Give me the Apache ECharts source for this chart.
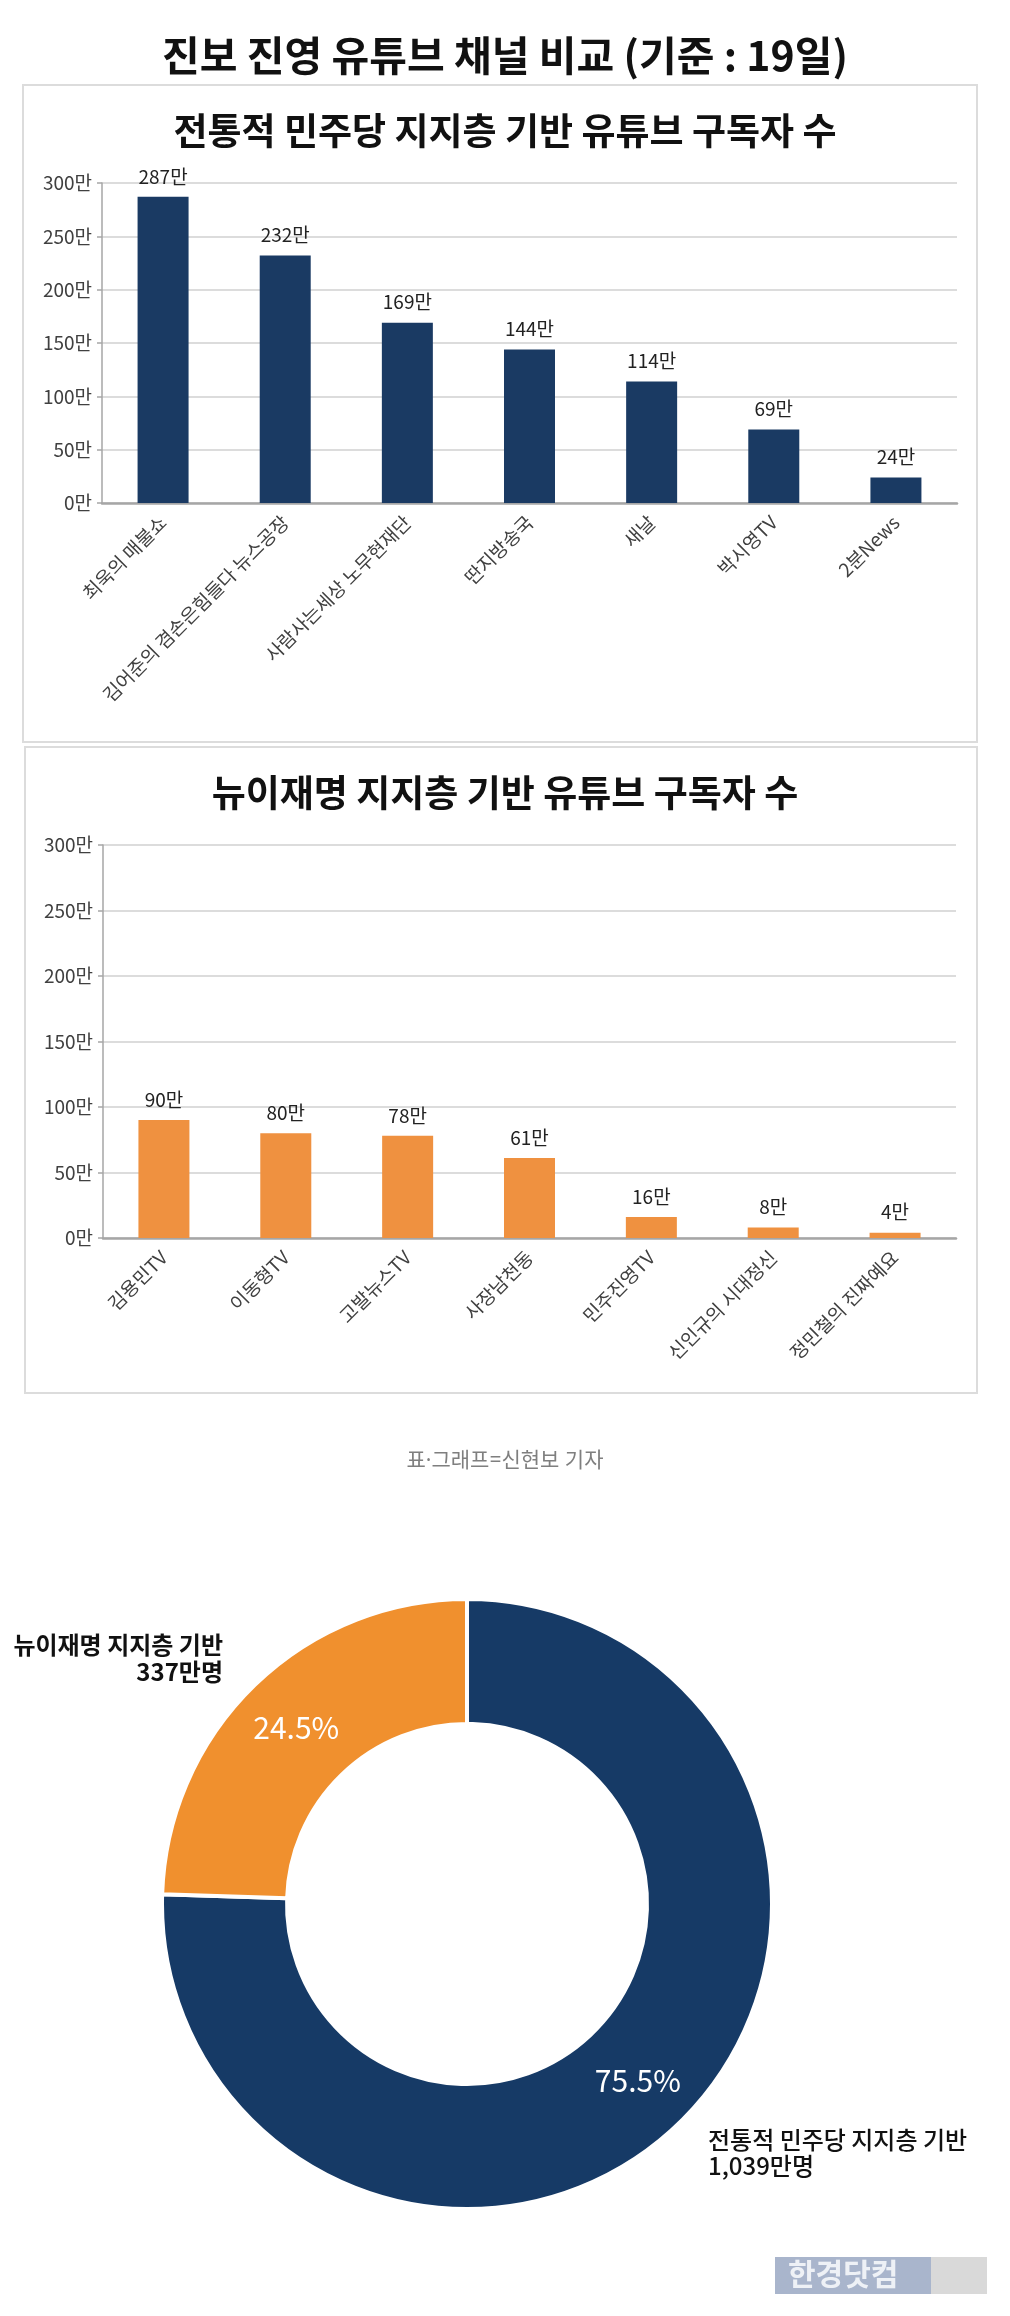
<!DOCTYPE html>
<html>
<head>
<meta charset="utf-8">
<script src="https://cdn.jsdelivr.net/npm/echarts@6/dist/echarts.min.js"></script>
<style>
  html, body { margin: 0; padding: 0; background: #fff; }
  #chart { width: 1010px; height: 2316px; }
</style>
</head>
<body>
<div id="chart"></div>
<script>
// 전통적 민주당 지지층 기반 채널 (단위: 만명)
var oldNames = ['최욱의 매불쇼', '김어준의 겸손은힘들다 뉴스공장', '사람사는세상 노무현재단', '딴지방송국', '새날', '박시영TV', '2분News'];
var oldValues = [287, 232, 169, 144, 114, 69, 24];

// 뉴이재명 지지층 기반 채널
var newNames = ['김용민TV', '이동형TV', '고발뉴스TV', '사장남천동', '민주진영TV', '신인규의 시대정신', '정민철의 진짜예요'];
var newValues = [90, 80, 78, 61, 16, 8, 4];

// y축 눈금
var yMin = 0, yMax = 300, yStep = 50;

// 합계 도넛
var pieNames = ['전통적 민주당 지지층 기반', '뉴이재명 지지층 기반'];
var pieValues = [1039, 337];

var NAVY = '#1a3a63';
var ORANGE = '#ef9140';
var FONT = '"Noto Sans CJK KR", "Noto Sans", sans-serif';

var myChart = echarts.init(document.getElementById('chart'));

function yAxisOpt(idx) {
    return {
        type: 'value', gridIndex: idx, min: yMin, max: yMax, interval: yStep,
        axisLine: { show: true, lineStyle: { color: '#a6a6a6', width: 1.5 } },
        axisTick: { show: true, length: 5, lineStyle: { color: '#a6a6a6', width: 1.5 } },
        axisLabel: { formatter: '{value}만', fontSize: 19, color: '#404040', fontFamily: FONT, margin: 10 },
        splitLine: { lineStyle: { color: '#dcdcdc', width: 2 } }
    };
}

function xAxisOpt(idx, names) {
    return {
        type: 'category', gridIndex: idx, data: names,
        axisLine: { lineStyle: { color: '#a6a6a6', width: 2.5 } },
        axisTick: { show: false },
        axisLabel: { interval: 0, rotate: 45, fontSize: 19, color: '#404040', fontFamily: FONT, margin: 16 }
    };
}

function barSeries(idx, values, color) {
    return {
        type: 'bar', xAxisIndex: idx, yAxisIndex: idx, data: values, barWidth: 51,
        itemStyle: { color: color },
        label: { show: true, position: 'top', distance: 11, formatter: '{c}만', fontSize: 19, color: '#222', fontFamily: FONT }
    };
}

function pctLabel(params) { return params.percent + '%'; }

var option = {
    backgroundColor: '#fff',
    textStyle: { fontFamily: FONT },
    title: [
        { text: '진보 진영 유튜브 채널 비교 (기준 : 19일)', left: 'center', top: 35, padding: 0,
          textStyle: { fontSize: 41, fontWeight: 'bold', color: '#111', fontFamily: FONT } },
        { text: '전통적 민주당 지지층 기반 유튜브 구독자 수', left: 'center', top: 112, padding: 0,
          textStyle: { fontSize: 37, fontWeight: 'bold', color: '#111', fontFamily: FONT } },
        { text: '뉴이재명 지지층 기반 유튜브 구독자 수', left: 'center', top: 774, padding: 0,
          textStyle: { fontSize: 37, fontWeight: 'bold', color: '#111', fontFamily: FONT } },
        { text: '표·그래프=신현보 기자', left: 'center', top: 1451, padding: 0,
          textStyle: { fontSize: 21, fontWeight: 'normal', color: '#7f7f7f', fontFamily: '"Noto Sans", "Noto Sans CJK KR", sans-serif' } },
        { text: pieNames[1] + '\n' + pieValues[1].toLocaleString('en-US') + '만명', left: 223, top: 1631, padding: 0,
          textAlign: 'right',
          textStyle: { fontSize: 24, fontWeight: 'bold', color: '#111', lineHeight: 27, fontFamily: FONT, align: 'right' } },
        { text: pieNames[0] + '\n' + pieValues[0].toLocaleString('en-US') + '만명', left: 708, top: 2127, padding: 0,
          textStyle: { fontSize: 24, fontWeight: 500, color: '#111', lineHeight: 26, fontFamily: FONT } }
    ],
    grid: [
        { left: 102, right: 53, top: 183, height: 320, containLabel: false },
        { left: 103, right: 54, top: 845, height: 393, containLabel: false }
    ],
    xAxis: [xAxisOpt(0, oldNames), xAxisOpt(1, newNames)],
    yAxis: [yAxisOpt(0), yAxisOpt(1)],
    series: [
        barSeries(0, oldValues, NAVY),
        barSeries(1, newValues, ORANGE),
        {
            type: 'pie', center: [467, 1904], radius: [180, 305],
            startAngle: 90, clockwise: true, percentPrecision: 1,
            data: [
                { name: pieNames[0], value: pieValues[0], itemStyle: { color: '#163a66' } },
                { name: pieNames[1], value: pieValues[1], itemStyle: { color: '#f0902e' } }
            ],
            itemStyle: { borderColor: '#fff', borderWidth: 4 },
            label: { show: true, position: 'inside', formatter: pctLabel, fontSize: 30, color: '#fff', fontFamily: FONT },
            labelLine: { show: false },
            emphasis: { disabled: true }
        }
    ],
    graphic: [
        { type: 'rect', shape: { x: 23, y: 85, width: 954, height: 657 }, style: { fill: 'none', stroke: '#dcdcdc', lineWidth: 2 } },
        { type: 'rect', shape: { x: 25, y: 747, width: 952, height: 646 }, style: { fill: 'none', stroke: '#dcdcdc', lineWidth: 2 } },
        { type: 'rect', shape: { x: 775, y: 2257, width: 156, height: 37 }, style: { fill: '#a9b5cc' } },
        { type: 'rect', shape: { x: 931, y: 2257, width: 56, height: 37 }, style: { fill: '#d9d9d9' } },
        { type: 'text', x: 788, y: 2259, style: { text: '한경닷컴', font: 'bold 30px ' + FONT, fill: '#eef1f6' } }
    ]
};

myChart.setOption(option);
</script>
</body>
</html>
